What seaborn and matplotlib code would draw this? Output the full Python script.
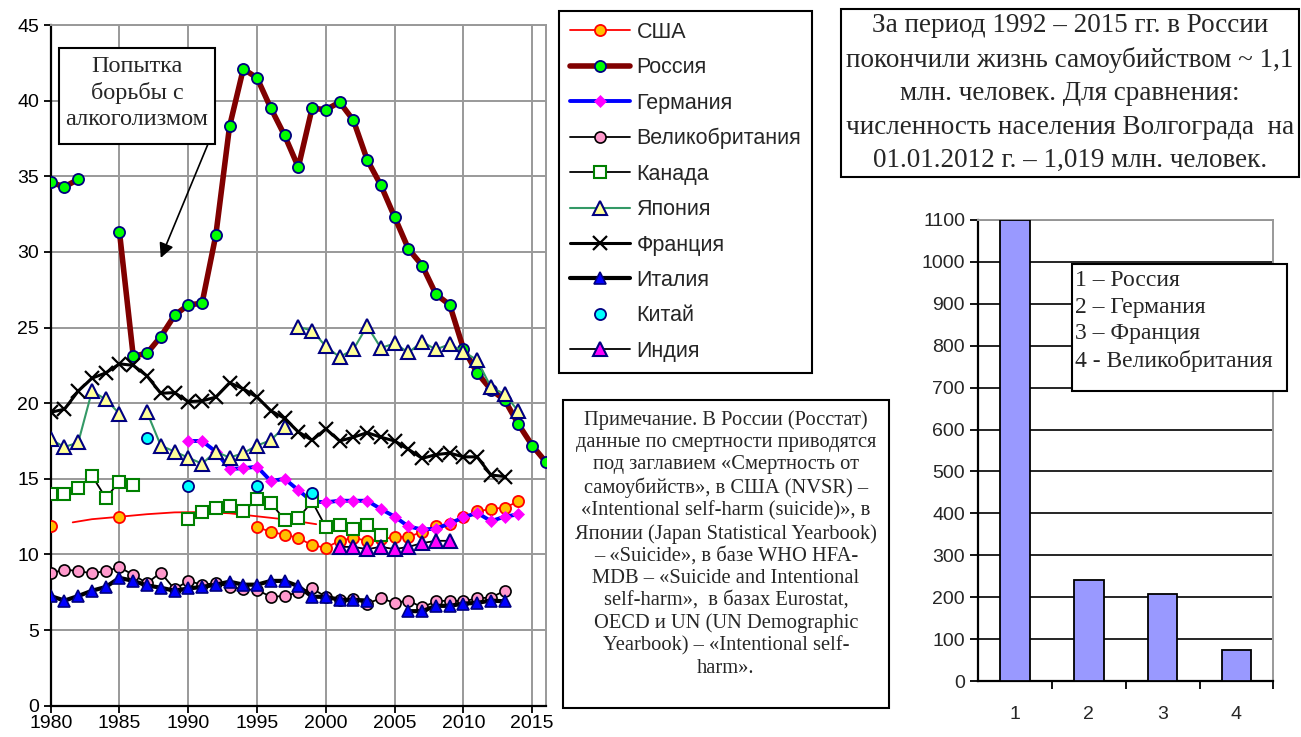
import matplotlib
matplotlib.use("Agg")
import matplotlib.pyplot as plt
import seaborn as sns
import pandas as pd
from matplotlib.patches import Rectangle

# ---------------- data ----------------
years = list(range(1980, 2017))
N = None
usa = [11.9, N, N, N, N, 12.45, N, N, N, N, N, N, N, N, N,
       11.8, 11.5, 11.3, 11.1, 10.6, 10.45, 10.9, 11.1, 10.9, 11.0, 11.15, 11.15, 11.5,
       11.9, 12.0, 12.45, 12.85, 13.0, 13.1, 13.5, N, N]
usa_trend_years = [1981.6, 1983, 1985, 1987, 1989, 1991, 1993, 1995, 1997, 1999.3]
usa_trend_values = [12.12, 12.33, 12.49, 12.66, 12.78, 12.8, 12.72, 12.52, 12.32, 12.0]
russia = [34.6, 34.3, 34.8, N, N, 31.3, 23.1, 23.3, 24.4, 25.8, 26.5, 26.6, 31.1, 38.3,
          42.1, 41.5, 39.5, 37.7, 35.6, 39.5, 39.4, 39.9, 38.7, 36.1, 34.4, 32.3, 30.2,
          29.1, 27.2, 26.5, 23.6, 22.0, 20.9, 20.2, 18.6, 17.2, 16.1]
germany = [N] * 10 + [17.5, 17.5, 16.8, 15.65, 15.7, 15.8, 14.85, 15.0, 14.25, 13.5, 13.45,
                      13.55, 13.55, 13.55, 13.0, 12.5, 11.85, 11.65, 11.7, 12.05, 12.45, 12.75,
                      12.2, 12.5, 12.65, N, N]
uk = [8.75, 9.0, 8.9, 8.75, 8.9, 9.15, 8.65, 8.1, 8.8, 7.7, 8.25, 8.0, 8.1, 7.85, 7.7, 7.65,
      7.2, 7.25, 7.5, 7.75, 7.2, 7.0, 7.05, 6.75, 7.1, 6.8, 6.95, 6.5, 6.9, 6.95, 6.9, 7.1,
      7.15, 7.6, N, N, N]
canada = [14.0, 14.0, 14.4, 15.2, 13.75, 14.8, 14.6, N, N, N, 12.35, 12.8, 13.1, 13.2, 12.85,
          13.65, 13.4, 12.3, 12.4, 13.5, 11.8, 11.95, 11.7, 11.95, 11.3] + [N] * 12
japan_early_years = list(range(1980, 1998))
japan_early = [17.6, 17.1, 17.4, 20.8, 20.25, 19.3, N, 19.4, 17.2, 16.8, 16.4, 16.0, 16.8,
               16.4, 16.7, 17.2, 17.55, 18.45]
japan_late_years = list(range(1998, 2015))
japan_late = [25.05, 24.8, 23.75, 23.05, 23.55, 25.1, 23.65, 23.95, 23.35, 24.05, 23.55,
              23.9, 23.4, 22.85, 21.05, 20.6, 19.45]
france = [19.4, 19.6, 20.8, 21.65, 22.0, 22.6, 22.5, 21.8, 20.65, 20.7, 20.1, 20.15, 20.4,
          21.35, 20.95, 20.4, 19.5, 19.0, 18.1, 17.55, 18.3, 17.5, 17.75, 18.05, 17.75, 17.5,
          16.95, 16.35, 16.6, 16.7, 16.45, 16.45, 15.25, 15.15, N, N, N]
italy = [7.25, 6.95, 7.25, 7.6, 7.85, 8.45, 8.25, 7.95, 7.8, 7.6, 7.75, 7.85, 8.0, 8.2, 8.0,
         8.0, 8.25, 8.25, 7.9, 7.2, 7.2, 7.0, 7.0, 6.95, N, N, 6.25, 6.25, 6.6, 6.6, 6.75,
         6.8, 6.95, 6.9, N, N, N]
china_years = [1987, 1990, 1995, 1999]
china = [17.7, 14.55, 14.55, 14.05]
india_years = list(range(2001, 2010))
india = [10.5, 10.5, 10.35, 10.5, 10.35, 10.5, 10.75, 10.9, 10.9]

bar_labels = ["1", "2", "3", "4"]
bar_values = [1100, 242, 208, 74]

W, H = 1301, 737

# ---------------- style ----------------
sns.set_theme(style="ticks")
plt.rcParams["font.family"] = ["Liberation Sans", "DejaVu Sans"]
SERIF = ["Liberation Serif", "DejaVu Serif"]

fig = plt.figure(figsize=(W / 100, H / 100), dpi=100)
fig.patch.set_facecolor("white")


def fx(x):
    return x / W


def fy(y):
    return 1 - y / H


ax = fig.add_axes([fx(50.7), fy(705.7), (546 - 50.7) / W, (705.7 - 25) / H])


def split(xs, ys):
    segs, cur = [], []
    for x, y in zip(xs, ys):
        if y is None:
            if cur:
                segs.append(cur)
                cur = []
        else:
            cur.append((x, y))
    if cur:
        segs.append(cur)
    return segs


def draw(xs, ys, label, z, **kw):
    first = True
    for seg in split(xs, ys):
        df = pd.DataFrame(seg, columns=["year", "value"])
        extra = {"label": label} if (first and label) else {}
        sns.lineplot(data=df, x="year", y="value", ax=ax, zorder=z, **extra, **kw)
        first = False


draw(usa_trend_years, usa_trend_values, None, 3, color="red", lw=1.3)
draw(years, usa, "США", 3, color="red", lw=1.3, marker="o", ms=8,
     markerfacecolor="#FFC000", markeredgecolor="red", markeredgewidth=1.3)
draw(years, russia, "Россия", 4, color="#800000", lw=4, marker="o", ms=8,
     markerfacecolor="#00FF00", markeredgecolor="#000080", markeredgewidth=1.3)
draw(years, germany, "Германия", 5, color="#0000FF", lw=2.8, marker="D", ms=6,
     markerfacecolor="#FF00FF", markeredgecolor="#FF00FF", markeredgewidth=0.5)
draw(years, uk, "Великобритания", 6, color="black", lw=1.3, marker="o", ms=8,
     markerfacecolor="#FF99CC", markeredgecolor="black", markeredgewidth=1.2)
draw(years, canada, "Канада", 7, color="black", lw=1.3, marker="s", ms=8,
     markerfacecolor="white", markeredgecolor="#008000", markeredgewidth=1.5)
draw(japan_early_years, japan_early, "Япония", 8, color="#339966", lw=1.5, marker="^", ms=10,
     markerfacecolor="#FFFF99", markeredgecolor="#000080", markeredgewidth=1.5)
draw(japan_late_years, japan_late, None, 8, color="#339966", lw=1.5, marker="^", ms=10,
     markerfacecolor="#FFFF99", markeredgecolor="#000080", markeredgewidth=1.5)
draw(years, france, "Франция", 9, color="black", lw=2.2, marker="x", ms=10,
     markeredgecolor="black", markeredgewidth=1.6)
draw(years, italy, "Италия", 10, color="black", lw=3, marker="^", ms=9,
     markerfacecolor="#0000FF", markeredgecolor="#000080", markeredgewidth=1.2)
for i, (cy, cv) in enumerate(zip(china_years, china)):
    df = pd.DataFrame({"year": [cy], "value": [cv]})
    extra = {"label": "Китай"} if i == 0 else {}
    sns.lineplot(data=df, x="year", y="value", ax=ax, zorder=11, linestyle="none",
                 marker="o", ms=8, markerfacecolor="#00FFFF", markeredgecolor="#000080",
                 markeredgewidth=1.3, **extra)
draw(india_years, india, "Индия", 12, color="black", lw=1.3, marker="^", ms=10,
     markerfacecolor="#FF00FF", markeredgecolor="#000080", markeredgewidth=1.5)

leg = ax.get_legend()
if leg is not None:
    leg.remove()
handles, labels = ax.get_legend_handles_labels()

ax.set_xlim(1980, 2016)
ax.set_ylim(0, 45)
ax.set_xticks(range(1980, 2016, 5))
ax.set_yticks(range(0, 46, 5))
ax.set_xlabel("")
ax.set_ylabel("")
ax.grid(True, color="#999999", lw=1.4, zorder=0)
ax.set_axisbelow(True)
ax.tick_params(axis="both", direction="out", length=5, width=1.3, color="black",
               labelsize=14, labelcolor="black")
ax.tick_params(axis="x", pad=1.5)
for s in ["left", "bottom"]:
    ax.spines[s].set_color("black")
    ax.spines[s].set_linewidth(1.6)
for s in ["top", "right"]:
    ax.spines[s].set_visible(True)
    ax.spines[s].set_color("#999999")
    ax.spines[s].set_linewidth(1.4)

# arrow of annotation
ax.annotate("", xy=(1988.0, 29.6), xycoords="data",
            xytext=(fx(208), fy(144)), textcoords="figure fraction",
            arrowprops=dict(arrowstyle="-|>", color="black", lw=1.2, mutation_scale=22,
                            shrinkA=0, shrinkB=0), annotation_clip=False, zorder=20)

# legend
lg = fig.legend(handles, labels, loc="upper left", bbox_to_anchor=(fx(559), fy(11)),
                frameon=True, fancybox=False, edgecolor="black", fontsize=15.5,
                handlelength=2.8, handletextpad=0.3, labelspacing=0.67, borderpad=0.5,
                borderaxespad=0, numpoints=1)
lg.get_frame().set_linewidth(1.5)
lg.get_frame().set_facecolor("white")
lg.get_frame().set_alpha(1)


def box(x0, y0, x1, y1, lw=1.5):
    fig.add_artist(Rectangle((fx(x0), fy(y1)), (x1 - x0) / W, (y1 - y0) / H,
                             transform=fig.transFigure, facecolor="white",
                             edgecolor="black", lw=lw, zorder=5))


# annotation box
box(59, 48, 215, 144)
fig.text(fx(137), fy(93), "Попытка\nборьбы с\nалкоголизмом", ha="center", va="center",
         fontsize=17.5, family=SERIF, linespacing=1.33, zorder=6)

# info box
box(841, 9, 1299, 177)
fig.text(fx(1070), fy(93),
         "За период 1992 – 2015 гг. в России\nпокончили жизнь самоубийством ~ 1,1\n"
         "млн. человек. Для сравнения:\nчисленность населения Волгограда  на\n"
         "01.01.2012 г. – 1,019 млн. человек.",
         ha="center", va="center", fontsize=19.5, family=SERIF, linespacing=1.45, zorder=6)

# note box
box(563, 400, 889, 708)
fig.text(fx(726), fy(544),
         "Примечание. В России (Росстат)\nданные по смертности приводятся\n"
         "под заглавием «Смертность от\nсамоубийств», в США (NVSR) –\n"
         "«Intentional self-harm (suicide)», в\nЯпонии (Japan Statistical Yearbook)\n"
         "– «Suicide», в базе WHO HFA-\nMDB – «Suicide and Intentional\n"
         "self-harm»,  в базах Eurostat,\nOECD и UN (UN Demographic\n"
         "Yearbook) – «Intentional self-\nharm».",
         ha="center", va="center", fontsize=14.8, family=SERIF, linespacing=1.22, zorder=6)

# ---------------- bar chart ----------------
ax2 = fig.add_axes([fx(978.3), fy(681), 295 / W, 461 / H])
sns.barplot(x=bar_labels, y=bar_values, ax=ax2, color="#9999FF", saturation=1,
            edgecolor="black", linewidth=1.3, width=0.4, zorder=3)
ax2.set_xlim(-0.5, 3.5)
ax2.set_ylim(0, 1100)
ax2.set_yticks(range(0, 1101, 100))
ax2.yaxis.grid(True, color="black", lw=1.2, zorder=0)
ax2.set_axisbelow(True)
ax2.set_xticks([0.5, 1.5, 2.5, 3.5], minor=True)
ax2.tick_params(axis="x", which="major", length=0, pad=18, labelsize=14)
ax2.tick_params(axis="x", which="minor", length=6, width=1.3, direction="out", color="black")
ax2.tick_params(axis="y", length=6, width=1.3, direction="out", color="black", labelsize=14)
for s in ["left", "bottom"]:
    ax2.spines[s].set_color("black")
    ax2.spines[s].set_linewidth(1.6)
for s in ["top", "right"]:
    ax2.spines[s].set_visible(True)
    ax2.spines[s].set_color("#999999")
    ax2.spines[s].set_linewidth(1.4)
ax2.set_xlabel("")
ax2.set_ylabel("")

box(1072, 264, 1287, 391)
fig.text(fx(1075), fy(321), "1 – Россия\n2 – Германия\n3 – Франция\n4 - Великобритания",
         ha="left", va="center", fontsize=17, family=SERIF, linespacing=1.33, zorder=6)

fig.savefig("out.png", dpi=100, facecolor="white")
